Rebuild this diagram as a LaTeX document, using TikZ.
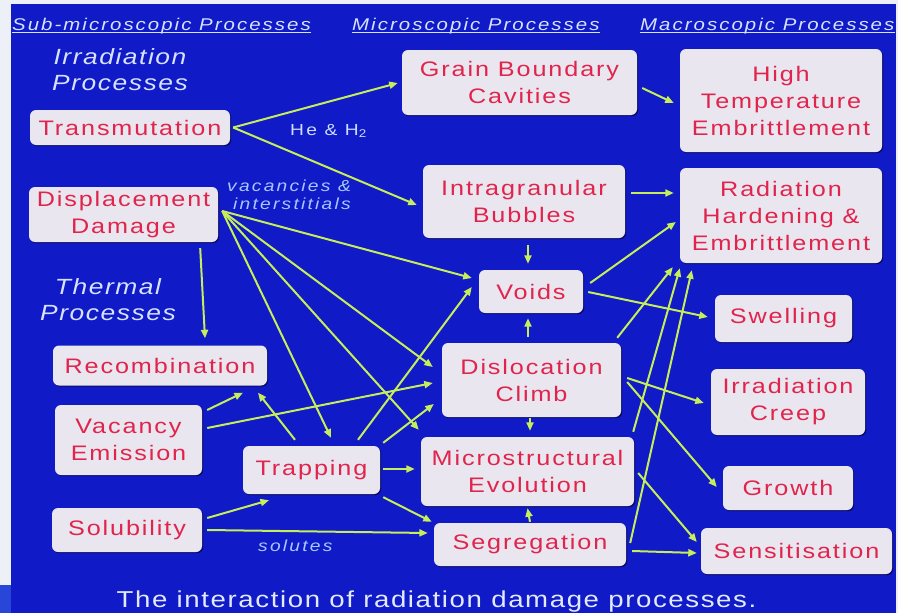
\documentclass[tikz,border=0pt]{standalone}
\usepackage{fontspec}
\setmainfont{Liberation Sans}
\newfontfamily\bxfont{Liberation Sans}[FakeStretch=1.2,LetterSpace=9]
\newfontfamily\hdfont{Liberation Sans}[FakeStretch=1.2,LetterSpace=12]
\newfontfamily\subfont{Liberation Sans}[FakeStretch=1.2,LetterSpace=7]
\newfontfamily\capfont{Liberation Sans}[FakeStretch=1.2,LetterSpace=7]
\newfontfamily\lbfont{Liberation Sans}[FakeStretch=1.2,LetterSpace=14]
\usetikzlibrary{arrows.meta,shadows}
\definecolor{bgblue}{RGB}{16,26,198}
\definecolor{bgedge}{RGB}{40,70,215}
\definecolor{margin}{RGB}{238,240,248}
\definecolor{boxfill}{RGB}{234,230,240}
\definecolor{boxred}{RGB}{224,36,76}
\definecolor{arrowc}{RGB}{198,238,90}
\definecolor{hdrc}{RGB}{214,226,255}
\definecolor{hec}{RGB}{205,220,255}
\definecolor{lblc}{RGB}{165,200,255}
\definecolor{capc}{RGB}{226,234,255}
\tikzset{
  box/.style={rectangle, rounded corners=6pt, fill=boxfill, text=boxred, align=center,
    inner sep=0pt, font=\bxfont\fontsize{21}{27}\selectfont,
    drop shadow={shadow xshift=1.2pt, shadow yshift=-1.2pt, fill=black, opacity=0.5}},
  arr/.style={draw=arrowc, line width=2pt, -{Triangle[length=8.5pt,width=7pt]}},
  hdr/.style={text=hdrc, inner sep=0pt, font=\hdfont\itshape\fontsize{17}{20}\selectfont, anchor=base west},
  uline/.style={draw=hdrc, line width=1.1pt},
  subhdr/.style={text=hdrc, inner sep=0pt, align=center, font=\subfont\itshape\fontsize{22}{26}\selectfont},
  lblit/.style={text=lblc, inner sep=0pt, font=\lbfont\itshape\fontsize{16}{18}\selectfont},
  lblup/.style={text=hec, inner sep=0pt, font=\lbfont\fontsize{16}{18}\selectfont},
}
\begin{document}
\begin{tikzpicture}[x=1pt,y=-1pt]
\useasboundingbox (0,0) rectangle (898,613);
\fill[margin] (0,0) rectangle (898,613);
\fill[bgedge] (0,585) rectangle (11,613);
\fill[bgblue] (11,4) rectangle (896,613);

% headers
\node[hdr] (h1) at (12,30.5) {Sub-microscopic Processes};
\draw[uline] ([yshift=-2pt]h1.base west) -- ([yshift=-2pt]h1.base east);
\node[hdr] (h2) at (352,30.5) {Microscopic Processes};
\draw[uline] ([yshift=-2pt]h2.base west) -- ([yshift=-2pt]h2.base east);
\node[hdr] (h3) at (640,30.5) {Macroscopic Processes};
\draw[uline] ([yshift=-2pt]h3.base west) -- ([yshift=-2pt]h3.base east);

\node[subhdr] (irr) at (120,69.5) {Irradiation\\Processes};
\node[subhdr] (therm) at (108,299.5) {Thermal\\Processes};

% boxes
\node[box, minimum width=200pt, minimum height=35pt] (trans) at (130,127.5) {Transmutation};
\node[box, minimum width=189pt, minimum height=55pt] (disp) at (123.5,214.5) {Displacement\\Damage};
\node[box, minimum width=214pt, minimum height=40pt] (recomb) at (160,365.5) {Recombination};
\node[box, minimum width=147pt, minimum height=70pt] (vacem) at (128.5,440) {Vacancy\\Emission};
\node[box, minimum width=137pt, minimum height=48pt] (trap) at (311.5,470) {Trapping};
\node[box, minimum width=150pt, minimum height=44pt] (solub) at (127,530) {Solubility};
\node[box, minimum width=235pt, minimum height=65pt] (gbc) at (519.5,82.5) {Grain Boundary\\Cavities};
\node[box, minimum width=202pt, minimum height=73pt] (ib) at (524,201.5) {Intragranular\\Bubbles};
\node[box, minimum width=104pt, minimum height=43pt] (voids) at (531,291.5) {Voids};
\node[box, minimum width=179pt, minimum height=74pt] (dc) at (531.5,380) {Dislocation\\Climb};
\node[box, minimum width=213pt, minimum height=69pt] (me) at (527.5,471.5) {Microstructural\\Evolution};
\node[box, minimum width=192pt, minimum height=43pt] (seg) at (530,544.5) {Segregation};
\node[box, minimum width=202pt, minimum height=103pt] (hte) at (781,100.5) {High\\Temperature\\Embrittlement};
\node[box, minimum width=202pt, minimum height=95pt] (rhe) at (781,215.5) {Radiation\\Hardening \&\\Embrittlement};
\node[box, minimum width=137pt, minimum height=47pt] (swell) at (783.5,318.5) {Swelling};
\node[box, minimum width=154pt, minimum height=66pt] (creep) at (788,402) {Irradiation\\Creep};
\node[box, minimum width=130pt, minimum height=44pt] (growth) at (788,488) {Growth};
\node[box, minimum width=191pt, minimum height=46pt] (sens) at (796.5,551) {Sensitisation};

% labels
\node[lblup, anchor=base west] (he) at (290,135) {He \& H\textsubscript{2}};
\node[lblit, anchor=north west, align=left] (vi) at (227,180) {vacancies \&\\\hspace*{6pt}interstitials};
\node[lblit, anchor=base west] (sol) at (258,551.5) {solutes};

% fan origins
\coordinate (tfan) at ([shift={(3,0)}]trans.east);
\coordinate (dfan) at ([shift={(4,-3.5)}]disp.east);

% irradiation arrows
\draw[arr] (tfan) -- ([shift={(-4,0.5)}]gbc.west);
\draw[arr] (tfan) -- ([shift={(-6,3.5)}]ib.west);
\draw[arr] ([shift={(5,5.5)}]gbc.east) -- ([shift={(-6,2.5)}]hte.west);
\draw[arr] ([shift={(6,-8.5)}]ib.east) -- ([shift={(-6,-22.5)}]rhe.west);
\draw[arr] ([shift={(4,7)}]ib.south) -- ([shift={(-3,-6)}]voids.north);
\draw[arr] ([shift={(7,-8.5)}]voids.east) -- ([shift={(-4,6.5)}]rhe.west);
\draw[arr] ([shift={(5,0.5)}]voids.east) -- ([shift={(-7,-1.5)}]swell.west);
\draw[arr] ([shift={(-3.5,-6)}]dc.north) -- ([shift={(-3,5)}]voids.south);
\draw[arr] ([shift={(-4,-5)}]dc.north east) -- ([shift={(-7,4)}]rhe.south west);
\draw[arr] ([shift={(6,-2)}]dc.east) -- ([shift={(-7,1)}]creep.west);
\draw[arr] ([shift={(6,2)}]dc.east) -- ([shift={(-6,-1)}]growth.west);
\draw[arr] ([shift={(-1.5,1)}]dc.south) -- ([shift={(2.5,-6)}]me.north);
\draw[arr] ([shift={(0,-1)}]seg.north) -- ([shift={(0,2)}]me.south);
\draw[arr] ([shift={(4,1.5)}]me.east) -- ([shift={(-4,-9)}]sens.west);
\draw[arr] ([shift={(-1,-5)}]me.north east) -- ([shift={(0,5)}]rhe.south west);
\draw[arr] ([shift={(4,-1.5)}]seg.east) -- ([shift={(12,7)}]rhe.south west);
\draw[arr] ([shift={(6,6.5)}]seg.east) -- ([shift={(-4,2)}]sens.west);

% thermal / left arrows
\draw[arr] ([shift={(-18,6)}]disp.south east) -- ([shift={(45,-7)}]recomb.north);
\draw[arr] (dfan) -- ([shift={(-7,-13.5)}]voids.west);
\draw[arr] (dfan) -- ([shift={(-9,-13)}]dc.west);
\draw[arr] (dfan) -- ([shift={(-2,-7)}]me.north west);
\draw[arr] (dfan) -- ([shift={(19.5,-8)}]trap.north);
\draw[arr] ([shift={(5,-30)}]vacem.east) -- ([shift={(83,7)}]recomb.south);
\draw[arr] ([shift={(5,-12)}]vacem.east) -- ([shift={(-9,3)}]dc.west);
\draw[arr] ([shift={(-16.5,-6)}]trap.north) -- ([shift={(98,7)}]recomb.south);
\draw[arr] ([shift={(46.5,-6)}]trap.north) -- ([shift={(-7,-4.5)}]voids.west);
\draw[arr] ([shift={(3,-3)}]trap.north east) -- ([shift={(-8,24)}]dc.west);
\draw[arr] ([shift={(3,-1)}]trap.east) -- ([shift={(-6,-2.5)}]me.west);
\draw[arr] ([shift={(3,3)}]trap.south east) -- ([shift={(-2,-1)}]seg.north west);
\draw[arr] ([shift={(5,-12)}]solub.east) -- ([shift={(-42.5,6)}]trap.south);
\draw[arr] ([shift={(5,0)}]solub.east) -- ([shift={(-6,-11.5)}]seg.west);

% caption
\node[anchor=base, text=capc, inner sep=0pt, font=\capfont\fontsize{23}{27}\selectfont] (cap) at (436.5,607) {The interaction of radiation damage processes.};
\end{tikzpicture}
\end{document}
